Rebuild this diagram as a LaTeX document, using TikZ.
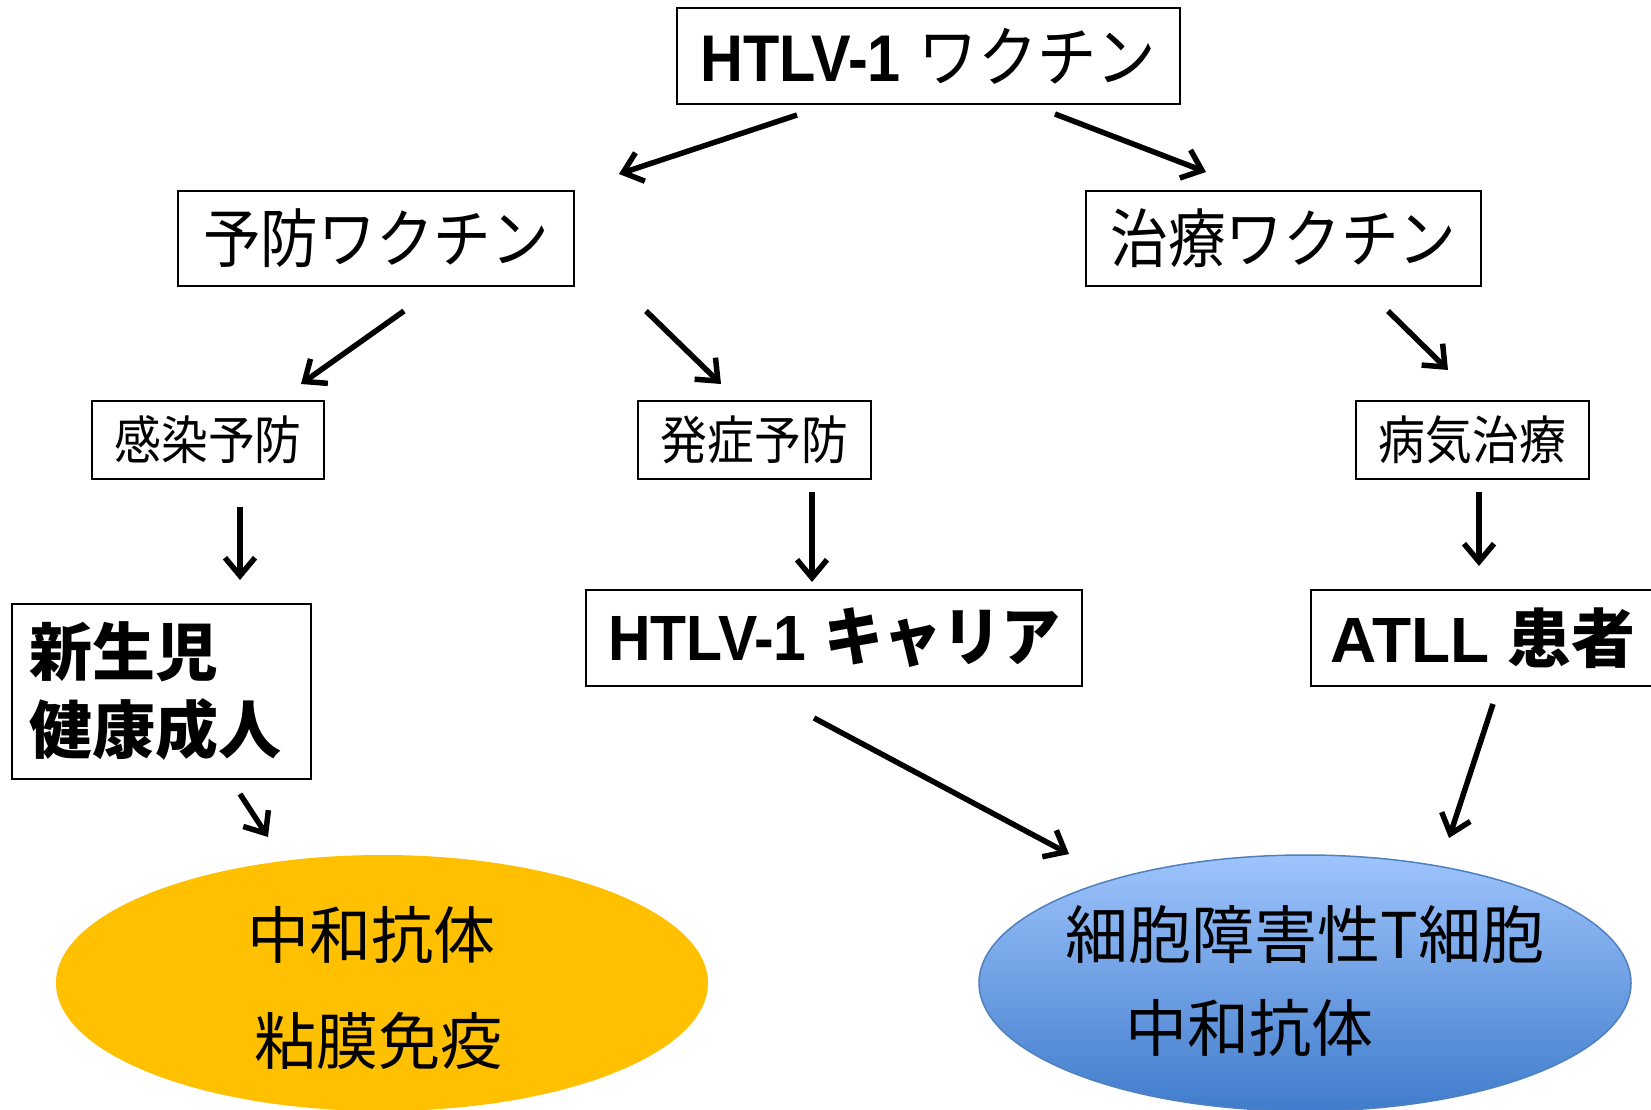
\documentclass[tikz,border=0pt]{standalone}
\usepackage{fontspec}
\usetikzlibrary{arrows.meta,shapes.geometric}
\newfontfamily\jp{Noto Sans CJK JP}
\newfontfamily\lat{Liberation Sans}
\newcommand\fsz[2]{\fontsize{#1}{#2}\selectfont}
\definecolor{ygold}{RGB}{255,192,0}
\definecolor{btop}{RGB}{158,196,252}
\definecolor{bbot}{RGB}{64,124,204}
\definecolor{bedge}{RGB}{79,129,189}
\begin{document}
\begin{tikzpicture}[x=1pt,y=-1pt,
  box/.style={draw=black,line width=1.5pt,inner sep=0pt,rectangle,fill=white},
  arr/.style={line width=5.5pt,-{Straight Barb[length=18pt,width=30pt]}},
  oval/.style={ellipse,inner sep=0pt,minimum width=652pt,minimum height=256pt}]
\useasboundingbox (0,0) rectangle (1651,1110);
\fill[white] (0,0) rectangle (1651,1110);

% ellipses
\node[oval,fill=ygold] (yel) at (382,983) {};
\node[oval,draw=bedge,line width=1.5pt,top color=btop,bottom color=bbot] (blu) at (1305,983) {};
\node[font=\jp\fsz{62}{62}] (y1) at (371,935) {中和抗体};
\node[font=\jp\fsz{62}{62}] (y2) at (378,1041) {粘膜免疫};
\node[font=\jp\fsz{63}{63}] (b1) at (1305,935) {細胞障害性T細胞};
\node[font=\jp\fsz{62}{62}] (b2) at (1249,1028) {中和抗体};

% boxes
\node[box,minimum width=503pt,minimum height=96pt] (top) at (928.5,56)
  {\scalebox{0.9}[1]{\fsz{66}{66}{\lat\bfseries HTLV-1} {\jp ワクチン}}};
\node[box,minimum width=396pt,minimum height=95pt] (prev) at (376,238.5)
  {\scalebox{0.9}[1]{\jp\fsz{64}{64}予防ワクチン}};
\node[box,minimum width=395pt,minimum height=95pt] (treat) at (1283.5,238.5)
  {\scalebox{0.9}[1]{\jp\fsz{64}{64}治療ワクチン}};
\node[box,minimum width=232pt,minimum height=78pt] (kansen) at (208,440)
  {\scalebox{0.9}[1]{\jp\fsz{52}{52}感染予防}};
\node[box,minimum width=233pt,minimum height=78pt] (hassho) at (754.5,440)
  {\scalebox{0.9}[1]{\jp\fsz{52}{52}発症予防}};
\node[box,minimum width=233pt,minimum height=78pt] (byoki) at (1472.5,440)
  {\scalebox{0.9}[1]{\jp\fsz{52}{52}病気治療}};
\node[box,minimum width=299pt,minimum height=175pt,align=left,text width=265pt,
      font=\jp\bfseries\fsz{63}{78}] (shinsei) at (161.5,691.5)
  {新生児\\健康成人};
\node[box,minimum width=496pt,minimum height=96pt] (carrier) at (834,638)
  {\scalebox{0.92}[1]{\fsz{64}{64}{\lat\bfseries HTLV-1} {\jp\bfseries キャリア}}};
\node[box,minimum width=350pt,minimum height=96pt,anchor=west] (atll) at (1310,638)
  {\makebox[310pt][l]{\fsz{64}{64}{\lat\bfseries ATLL}\hspace{18pt}{\jp\bfseries 患者}}};

% arrow ends
\coordinate (a1s) at (797,115);  \coordinate (a1e) at (619,174);
\coordinate (a2s) at (1055,114); \coordinate (a2e) at (1206,172);
\coordinate (a3s) at (404,311);  \coordinate (a3e) at (301,384);
\coordinate (a4s) at (646,311);  \coordinate (a4e) at (721,384);
\coordinate (a5s) at (1388,311); \coordinate (a5e) at (1448,370);
\coordinate (a6s) at (240,507);  \coordinate (a6e) at (240,580);
\coordinate (a7s) at (812,492);  \coordinate (a7e) at (812,582);
\coordinate (a8s) at (1479,492); \coordinate (a8e) at (1479,566);
\coordinate (a9s) at (240,794);  \coordinate (a9e) at (268,837);
\coordinate (a10s) at (814,718); \coordinate (a10e) at (1069,854);
\coordinate (a11s) at (1493,704); \coordinate (a11e) at (1449,838);

\draw[arr] (a1s) -- (a1e);
\draw[arr] (a2s) -- (a2e);
\draw[arr] (a3s) -- (a3e);
\draw[arr] (a4s) -- (a4e);
\draw[arr] (a5s) -- (a5e);
\draw[arr] (a6s) -- (a6e);
\draw[arr] (a7s) -- (a7e);
\draw[arr] (a8s) -- (a8e);
\draw[arr] (a9s) -- (a9e);
\draw[arr] (a10s) -- (a10e);
\draw[arr] (a11s) -- (a11e);
\end{tikzpicture}
\end{document}
